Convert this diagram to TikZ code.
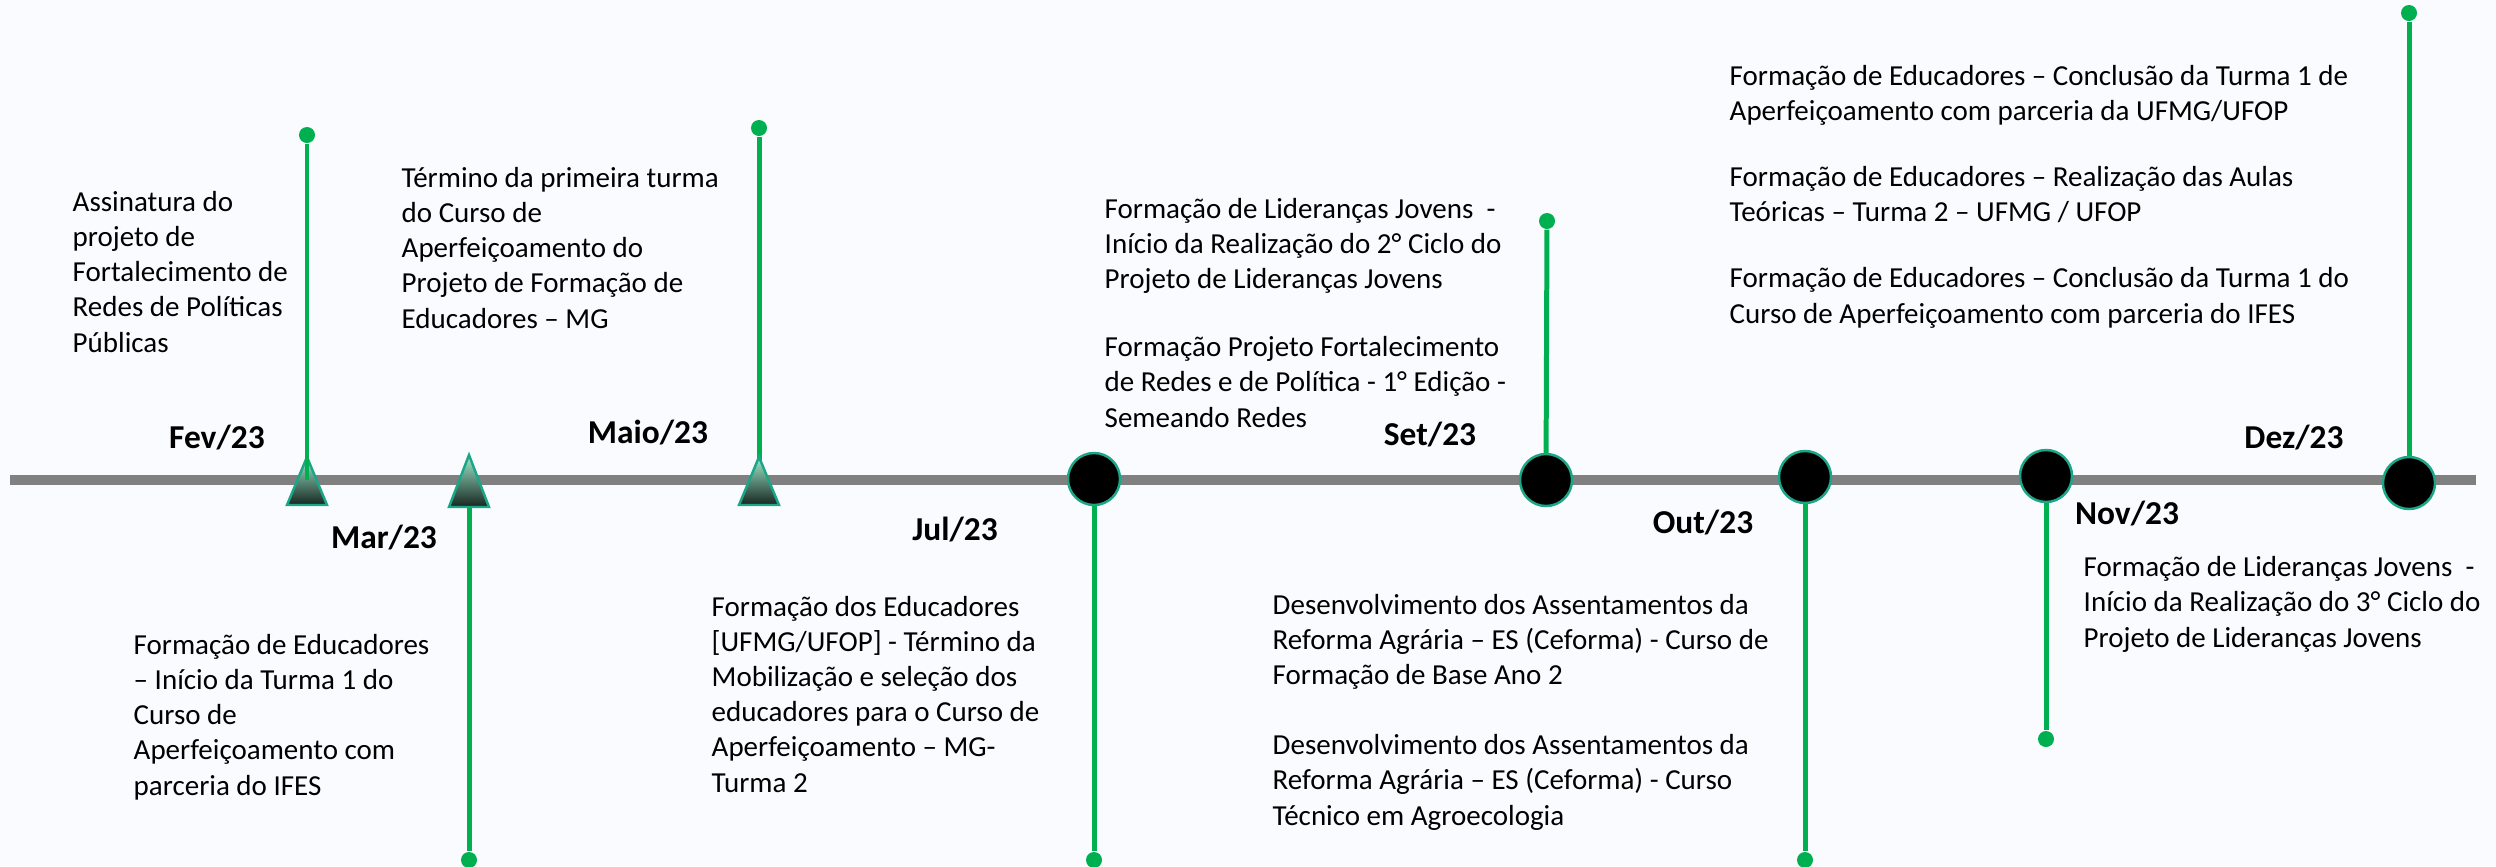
\documentclass[tikz,border=0pt]{standalone}
\usepackage{fontspec}
\setmainfont{Carlito}
\usetikzlibrary{positioning}
\definecolor{stemgreen}{RGB}{0,176,80}
\definecolor{markteal}{RGB}{28,166,136}
\definecolor{linegray}{RGB}{128,128,128}
\definecolor{pagebg}{RGB}{250,251,254}
\definecolor{mintlight}{RGB}{160,235,205}
\definecolor{mintdark}{RGB}{22,38,32}
\tikzset{
    desc/.style = {
        anchor=base west,
        align=left,
        inner sep=0pt,
        font=\fontsize{8.25}{9.96}\selectfont,
    },
    month/.style = {
        inner sep=0pt,
        font=\fontsize{9.5}{11.4}\selectfont\bfseries,
    },
    event/.style = {
        circle,
        fill=black,
        draw=markteal,
        line width=0.7pt,
        minimum size=0.52cm,
        inner sep=0pt,
    },
    enddot/.style = {
        circle,
        fill=stemgreen,
        minimum size=0.16cm,
        inner sep=0pt,
    },
    tri/.style = {
        draw=markteal,
        line width=0.7pt,
        top color=mintlight,
        bottom color=mintdark,
    },
}
\tikzstyle{stem} = [
    stemgreen,
    line width=1.42pt
]
\tikzstyle{timeline} = [
    linegray,
    line width=2.85pt
]

\begin{document}
\begin{tikzpicture}[x=0.01cm, y=0.01cm]
        \fill[pagebg] (0,0) rectangle (2496,-866);
        \useasboundingbox (0,0) rectangle (2496,-866);

        % timeline
        \coordinate (tlstart) at (10,-480);
        \coordinate (tlend) at (2476,-480);
        \draw [timeline] (tlstart) -- (tlend);

        \coordinate (fev) at (307,-480);
        \coordinate (mar) at (469,-480);
        \coordinate (maio) at (759,-480);

        \node [enddot] (fevend) at (307,-135) {};
        \node [enddot] (marend) at (469,-860) {};
        \node [enddot] (maioend) at (759,-128) {};
        \node [enddot] (julend) at (1094,-860) {};
        \node [enddot] (setend) at (1547,-221) {};
        \node [enddot] (outend) at (1805,-860) {};
        \node [enddot] (novend) at (2046,-739) {};
        \node [enddot] (dezend) at (2409,-13) {};

        \draw [stem] (mar) -- (marend);
        \draw [stem] (maio) -- (maioend);

        % triangles
        \shadedraw [tri] ([shift={(-20,-25)}]fev) -- ([shift={(20,-25)}]fev) -- ([shift={(0,23)}]fev) -- cycle;
        \shadedraw [tri] ([shift={(-20,-27)}]mar) -- ([shift={(20,-27)}]mar) -- ([shift={(0,25)}]mar) -- cycle;
        \shadedraw [tri] ([shift={(-20,-25)}]maio) -- ([shift={(20,-25)}]maio) -- ([shift={(0,23)}]maio) -- cycle;

        \draw [stem] (fev) -- (fevend);

        % circles
        \node [event] (jul) at (1094,-479) {};
        \node [event] (set) at (1546,-480) {};
        \node [event] (out) at (1805,-477) {};
        \node [event] (nov) at (2046,-476) {};
        \node [event] (dez) at (2409,-483) {};

        \draw [stem] (jul) -- (julend);
        \draw [stem] (set) -- (setend);
        \draw [stem] (out) -- (outend);
        \draw [stem] (nov) -- (novend);
        \draw [stem] (dez) -- (dezend);

        % months
        \node [month] (fevlbl) at (217,-438) {Fev/23};
        \node [month] (marlbl) at (384,-538) {Mar/23};
        \node [month] (maiolbl) at (648,-433) {Maio/23};
        \node [month] (jullbl) at (955,-530) {Jul/23};
        \node [month] (setlbl) at (1430,-435) {Set/23};
        \node [month] (outlbl) at (1703,-523) {Out/23};
        \node [month] (novlbl) at (2127,-514) {Nov/23};
        \node [month] (dezlbl) at (2294,-438) {Dez/23};

        % texts (placed at the baseline of their last line)
        \node [desc] (fevtxt) at (72,-352)
        {Assinatura do\\projeto de\\Fortalecimento de\\Redes de Políticas\\Públicas};

        \node [desc] (maiotxt) at (401,-328)
        {Término da primeira turma\\do Curso de\\Aperfeiçoamento do\\Projeto de Formação de\\Educadores – MG};

        \node [desc] (martxt) at (133,-795)
        {Formação de Educadores\\– Início da Turma 1 do\\Curso de\\Aperfeiçoamento com\\parceria do IFES};

        \node [desc] (jultxt) at (711,-792)
        {Formação dos Educadores\\{}[UFMG/UFOP] - Término da\\Mobilização e seleção dos\\educadores para o Curso de\\Aperfeiçoamento – MG-\\Turma 2};

        \node [desc] (settxt) at (1104,-427)
        {Formação de Lideranças Jovens\ \ -\\Início da Realização do 2° Ciclo do\\Projeto de Lideranças Jovens\\[0.33cm]
        Formação Projeto Fortalecimento\\de Redes e de Política - 1° Edição -\\Semeando Redes};

        \node [desc] (outtxt) at (1272,-825)
        {Desenvolvimento dos Assentamentos da\\Reforma Agrária – ES (Ceforma) - Curso de\\Formação de Base Ano 2\\[0.35cm]
        Desenvolvimento dos Assentamentos da\\Reforma Agrária – ES (Ceforma) - Curso\\Técnico em Agroecologia};

        \node [desc] (deztxt) at (1729,-323)
        {Formação de Educadores – Conclusão da Turma 1 de\\Aperfeiçoamento com parceria da UFMG/UFOP\\[0.31cm]
        Formação de Educadores – Realização das Aulas\\Teóricas – Turma 2 – UFMG / UFOP\\[0.31cm]
        Formação de Educadores – Conclusão da Turma 1 do\\Curso de Aperfeiçoamento com parceria do IFES};

        \node [desc] (novtxt) at (2083,-647)
        {Formação de Lideranças Jovens\ \ -\\Início da Realização do 3° Ciclo do\\Projeto de Lideranças Jovens};

\end{tikzpicture}
\end{document}
